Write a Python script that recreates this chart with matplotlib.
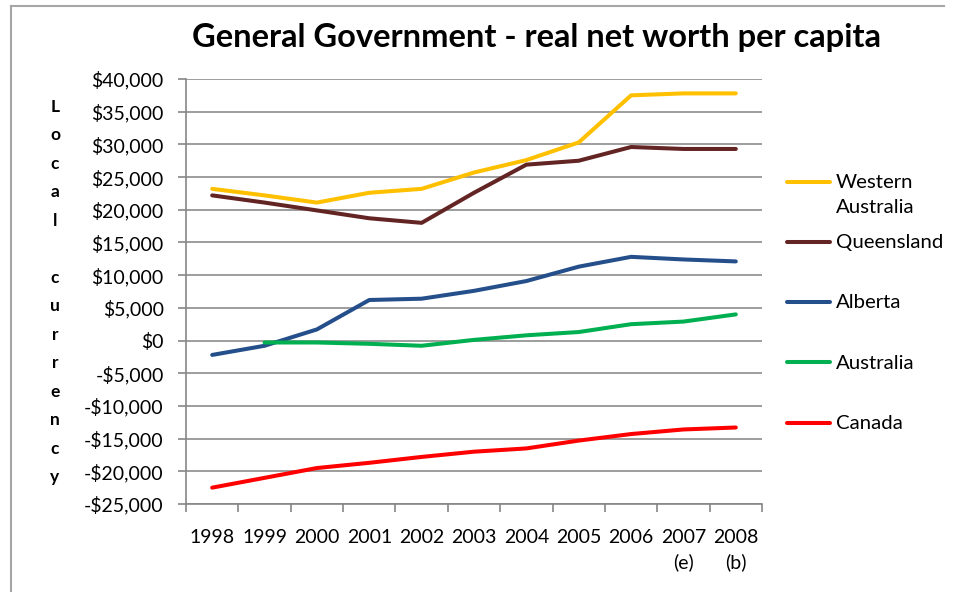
import matplotlib
matplotlib.use("Agg")
import matplotlib.pyplot as plt
from matplotlib.lines import Line2D
from matplotlib.legend_handler import HandlerLine2D

years = ["1998", "1999", "2000", "2001", "2002", "2003", "2004", "2005", "2006", "2007\n(e)", "2008\n(b)"]
western_australia = [23200, 22200, 21100, 22600, 23200, 25700, 27600, 30300, 37500, 37800, 37800]
queensland = [22200, 21100, 19900, 18700, 18000, 22600, 26900, 27500, 29600, 29300, 29300]
alberta = [-2200, -800, 1700, 6200, 6400, 7600, 9100, 11300, 12800, 12400, 12100]
australia = [None, -300, -300, -500, -800, 100, 800, 1300, 2500, 2900, 4000]
canada = [-22500, -21000, -19500, -18700, -17800, -17000, -16500, -15300, -14300, -13600, -13300]

series = [
    ("Western\nAustralia", western_australia, "#FFC000"),
    ("Queensland\n", queensland, "#632523"),
    ("Alberta\n", alberta, "#254F8A"),
    ("Australia\n", australia, "#00B050"),
    ("Canada\n", canada, "#FF0000"),
]
yticks = list(range(-25000, 40001, 5000))

FONT = "Lato"
plt.rcParams["font.family"] = [FONT, "DejaVu Sans"]


class FirstLineHandler(HandlerLine2D):
    """Places the legend line level with the first line of a two-line label."""
    def __init__(self, dy, **kw):
        super().__init__(**kw)
        self.dy = dy

    def create_artists(self, legend, orig_handle, xdescent, ydescent, width, height, fontsize, trans):
        arts = super().create_artists(legend, orig_handle, xdescent, ydescent, width, height, fontsize, trans)
        for a in arts:
            a.set_ydata([y + self.dy for y in a.get_ydata()])
        return arts


fig = plt.figure(figsize=(9.54, 5.92), dpi=100)
ax = fig.add_axes([186 / 954, 1 - 504 / 592, (762 - 186) / 954, (504 - 79) / 592])

x = list(range(len(years)))
handles = []
for label, vals, color in series:
    xs = [i for i, v in zip(x, vals) if v is not None]
    ys = [v for v in vals if v is not None]
    h, = ax.plot(xs, ys, color=color, lw=2.9, solid_capstyle="round", solid_joinstyle="round", label=label)
    handles.append(h)

ax.set_xlim(-0.5, len(years) - 0.5)
ax.set_ylim(-25000, 40000)
ax.set_yticks(yticks)
ax.set_yticklabels([("-$" if v < 0 else "$") + f"{abs(v):,}" for v in yticks])
ax.set_xticks([i - 0.5 for i in range(len(years) + 1)])
ax.set_xticklabels([])
ax.set_xticks(x, minor=True)
ax.set_xticklabels(years, minor=True)
for t in ax.get_xticklabels(minor=True):
    t.set_linespacing(1.5)
ax.tick_params(axis="x", which="minor", length=0, pad=18, labelsize=14, labelcolor="black")
ax.tick_params(axis="x", which="major", length=6, color="#868686", width=1.2)
ax.tick_params(axis="y", length=6, color="#868686", width=1.2, labelsize=14, pad=10)
ax.grid(axis="y", color="#8C8C8C", lw=1.2)
ax.set_axisbelow(True)
for s in ["top", "right"]:
    ax.spines[s].set_visible(False)
for s in ["left", "bottom"]:
    ax.spines[s].set_color("#868686")
    ax.spines[s].set_linewidth(1.2)

fig.text(536 / 954, 1 - 38 / 592, "General Government - real net worth per capita",
         ha="center", va="center", fontsize=23.5, fontweight="bold")

fig.text(55 / 954, 1 - 292 / 592, "\n".join("Local currency"), ha="center", va="center",
         fontsize=12.5, fontweight="bold", linespacing=1.96)

leg = ax.legend(handles, [s[0] for s in series], loc="upper left",
                bbox_to_anchor=(787 / 954, 1 - 174 / 592), bbox_transform=fig.transFigure,
                frameon=False, fontsize=14.7, handlelength=2.1, handletextpad=0.3,
                borderpad=0, borderaxespad=0, labelspacing=0.9,
                handler_map={Line2D: FirstLineHandler(9.4)})
for t in leg.get_texts():
    t.set_linespacing(1.56)

# chart frame
fig.add_artist(Line2D([11 / 954, 11 / 954], [0, 1 - 6 / 592], transform=fig.transFigure, color="#A6A6A6", lw=1.5))
fig.add_artist(Line2D([11 / 954, 944 / 954], [1 - 6 / 592, 1 - 6 / 592], transform=fig.transFigure, color="#A6A6A6", lw=1.5))

fig.savefig("out.png", dpi=100)
